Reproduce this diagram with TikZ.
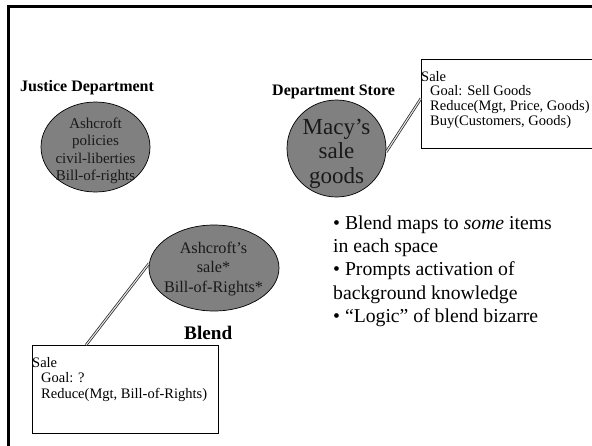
\documentclass[tikz,border=0pt]{standalone}
\usepackage{fontspec}
\setmainfont{Liberation Serif}
\usetikzlibrary{shapes.geometric,calc}
\begin{document}
\begin{tikzpicture}[x=1pt,y=-1pt,
  blob/.style={ellipse, draw=black, line width=0.7pt, fill=black!50, inner sep=0pt},
  hdr/.style={font=\bfseries\fontsize{16}{19}\selectfont, anchor=base west, inner sep=0pt},
  bighdr/.style={font=\bfseries\fontsize{19.2}{23}\selectfont, anchor=base west, inner sep=0pt},
  etext/.style={anchor=base, inner sep=0pt, text=black!90},
  frame/.style={draw=black, line width=0.7pt, inner sep=0pt, anchor=north west},
  btext/.style={font=\fontsize{14.5}{17}\selectfont, anchor=base west, inner sep=0pt},
  ptext/.style={font=\fontsize{19.7}{23}\selectfont, anchor=base west, inner sep=0pt},
  dbl/.style={draw=black!85, double=white!90!black, double distance=1.1pt, line width=0.75pt}
]
\useasboundingbox (0,0) rectangle (592,445);
\clip (0,0) rectangle (592,445);
% slide frame
\draw[line width=2.8pt, line join=miter] (8.5,450) -- (8.5,6.2) -- (600,6.2);

% headers
\node[hdr] (hjd) at (20,91) {Justice Department};
\node[hdr] (hds) at (272,95) {Department Store};
\node[bighdr] (hbl) at (184,339) {Blend};

% Justice Department space
\node[blob, minimum width=109, minimum height=90] (jd) at (95.5,147) {};
\foreach \lbl [count=\i] in {Ashcroft, policies, civil-liberties, Bill-of-rights}
  \node[etext, font=\fontsize{15}{17}\selectfont] (jdt\i) at (95.5,{128.5+17.3*(\i-1)}) {\lbl};

% Department store space
\node[blob, minimum width=99, minimum height=97] (macy) at (336.5,148.5) {};
\foreach \lbl [count=\i] in {Macy’s, sale, goods}
  \node[etext, font=\fontsize{23}{26}\selectfont] (mt\i) at (336.5,{134+24.5*(\i-1)}) {\lbl};

% Sale frame (store)
\node[frame, minimum width=185, minimum height=89] (sb) at (421,58.5) {};
\node[btext] (sb1) at (421,81) {Sale};
\foreach \lbl [count=\i] in {Goal: Sell Goods, {Reduce(Mgt, Price, Goods)}, {Buy(Customers, Goods)}}
  \node[btext] (sbl\i) at (430,{81+14.8*\i}) {\lbl};
\draw[dbl] (macy.-4) -- ($(sb.north west)!0.445!(sb.south west)$);

% Blend space
\node[blob, minimum width=130, minimum height=86] (bl) at (214,268) {};
\foreach \lbl [count=\i] in {Ashcroft’s, sale*, Bill-of-Rights*}
  \node[etext, font=\fontsize{16.2}{19}\selectfont] (blt\i) at (213.5,{253+19.5*(\i-1)}) {\lbl};

% Sale frame (blend)
\node[frame, minimum width=186, minimum height=88] (bb) at (32,345) {};
\node[btext] (bb1) at (32,367) {Sale};
\foreach \lbl [count=\i] in {Goal: ?, {Reduce(Mgt, Bill-of-Rights)}}
  \node[btext] (bbl\i) at (41,{367+15.5*\i}) {\lbl};
\draw[dbl] (bl.176) -- ($(bb.north west)!0.29!(bb.north east)$);

% bullet points
\foreach \lbl [count=\i] in {• Blend maps to \textit{some} items, in each space, • Prompts activation of, background knowledge, • “Logic” of blend bizarre}
  \node[ptext] (pt\i) at (333,{229.3+23.3*(\i-1)}) {\lbl};
\end{tikzpicture}
\end{document}
